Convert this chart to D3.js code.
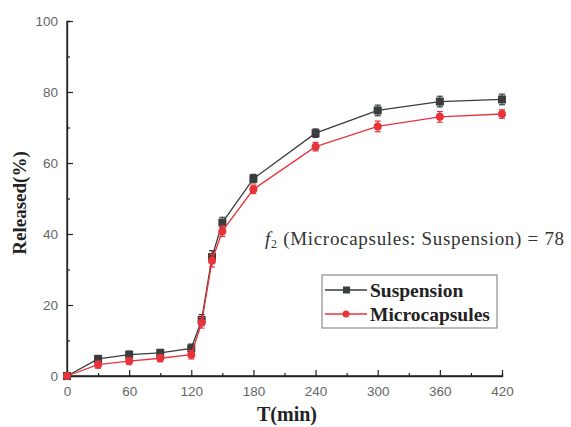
<!DOCTYPE html>
<html><head><meta charset="utf-8">
<script src="https://cdn.jsdelivr.net/npm/d3@7"></script>
<style>body{margin:0;background:#fff}</style>
</head><body>
<svg id="c" width="571" height="427"></svg>
<script>
const times = [0,30,60,90,120,130,140,150,180,240,300,360,420];
const suspension = [0,4.8,6,6.5,7.8,15.8,33.5,43.2,55.6,68.4,74.8,77.3,77.9];
const suspensionErr = [0.5,1.0,1.0,1.0,1.2,1.5,1.8,1.5,1.2,1.2,1.5,1.5,1.5];
const microcapsules = [0,3.2,4.2,5.0,6.0,15.0,32.5,40.8,52.6,64.6,70.3,73.0,73.8];
const microErr = [0.5,1.0,1.0,1.0,1.2,1.5,1.8,1.5,1.2,1.2,1.5,1.5,1.2];
const xTicks = [0,60,120,180,240,300,360,420];
const yTicks = [0,20,40,60,80,100];

const svg = d3.select("#c");
const x = d3.scaleLinear().domain([0,420]).range([67,502]);
const y = d3.scaleLinear().domain([0,100]).range([376,21]);
const tickCol = "#666";
const serif = "Liberation Serif, Times New Roman, serif";

// axes
const gx = svg.append("g").attr("transform","translate(0,376)")
  .call(d3.axisBottom(x).tickValues(xTicks).tickSize(-6).tickPadding(10));
const gxm = svg.append("g").attr("transform","translate(0,376)")
  .call(d3.axisBottom(x).tickValues(d3.range(30,420,60)).tickSize(-3).tickFormat(""));
const gy = svg.append("g").attr("transform","translate(67,0)")
  .call(d3.axisLeft(y).tickValues(yTicks).tickSize(-6).tickPadding(9));
const gym = svg.append("g").attr("transform","translate(67,0)")
  .call(d3.axisLeft(y).tickValues(d3.range(10,100,20)).tickSize(-3).tickFormat(""));
[gx,gxm,gy,gym].forEach(g=>{
  g.select(".domain").attr("stroke","#222").attr("stroke-width",1.3);
  g.selectAll(".tick line").attr("stroke","#222").attr("stroke-width",1.2);
  g.selectAll("text").attr("fill",tickCol).attr("font-family","Liberation Sans, Arial, sans-serif").attr("font-size",13.5);
});
gx.select(".domain").attr("d","M67,0H502");
gy.select(".domain").attr("d","M0,376V21");

// series
function drawSeries(vals, errs, color, marker){
  const line = d3.line().x((d,i)=>x(times[i])).y(d=>y(d));
  svg.append("path").datum(vals).attr("d",line).attr("fill","none").attr("stroke",color).attr("stroke-width",1.3);
  const g = svg.append("g");
  vals.forEach((v,i)=>{
    const cx = x(times[i]);
    g.append("line").attr("x1",cx).attr("x2",cx).attr("y1",y(v-errs[i])).attr("y2",y(v+errs[i])).attr("stroke",color).attr("stroke-width",1.2);
    g.append("line").attr("x1",cx-3).attr("x2",cx+3).attr("y1",y(v-errs[i])).attr("y2",y(v-errs[i])).attr("stroke",color).attr("stroke-width",1.2);
    g.append("line").attr("x1",cx-3).attr("x2",cx+3).attr("y1",y(v+errs[i])).attr("y2",y(v+errs[i])).attr("stroke",color).attr("stroke-width",1.2);
    if(marker==="square") g.append("rect").attr("x",cx-4).attr("y",y(v)-4).attr("width",8).attr("height",8).attr("fill",color);
    else g.append("circle").attr("cx",cx).attr("cy",y(v)).attr("r",4).attr("fill",color);
  });
}
drawSeries(suspension, suspensionErr, "#3a3d3d", "square");
drawSeries(microcapsules, microErr, "#e8333b", "circle");

// legend
const lg = svg.append("g");
lg.append("rect").attr("x",322).attr("y",275).attr("width",175).attr("height",53).attr("fill","#fff").attr("stroke","#777").attr("stroke-width",1);
const leg = [["Suspension","#3a3d3d","square"],["Microcapsules","#e8333b","circle"]];
leg.forEach((d,i)=>{
  const yy = 290 + i*24;
  lg.append("line").attr("x1",325).attr("x2",367).attr("y1",yy).attr("y2",yy).attr("stroke",d[1]).attr("stroke-width",1.3);
  if(d[2]==="square") lg.append("rect").attr("x",343).attr("y",yy-3.5).attr("width",7).attr("height",7).attr("fill",d[1]);
  else lg.append("circle").attr("cx",346).attr("cy",yy).attr("r",3.5).attr("fill",d[1]);
  lg.append("text").attr("x",370).attr("y",yy+6.5).text(d[0]).attr("font-family",serif).attr("font-weight","bold").attr("font-size",19.5).attr("fill","#222");
});

// annotation
const ann = svg.append("text").attr("x",265).attr("y",245).attr("font-family",serif).attr("font-size",19).attr("letter-spacing",0.7).attr("fill","#333");
ann.append("tspan").attr("font-style","italic").text("f");
ann.append("tspan").attr("font-size",12).attr("dy",3).text("2");
ann.append("tspan").attr("dy",-3).text(" (Microcapsules: Suspension) = 78");

// axis titles
svg.append("text").attr("x",287).attr("y",421).attr("text-anchor","middle").attr("font-family",serif).attr("font-weight","bold").attr("font-size",20).attr("fill","#222").text("T(min)");
svg.append("text").attr("transform","translate(26,203) rotate(-90)").attr("text-anchor","middle").attr("font-family",serif).attr("font-weight","bold").attr("font-size",19).attr("fill","#222").text("Released(%)");
</script>
</body></html>
